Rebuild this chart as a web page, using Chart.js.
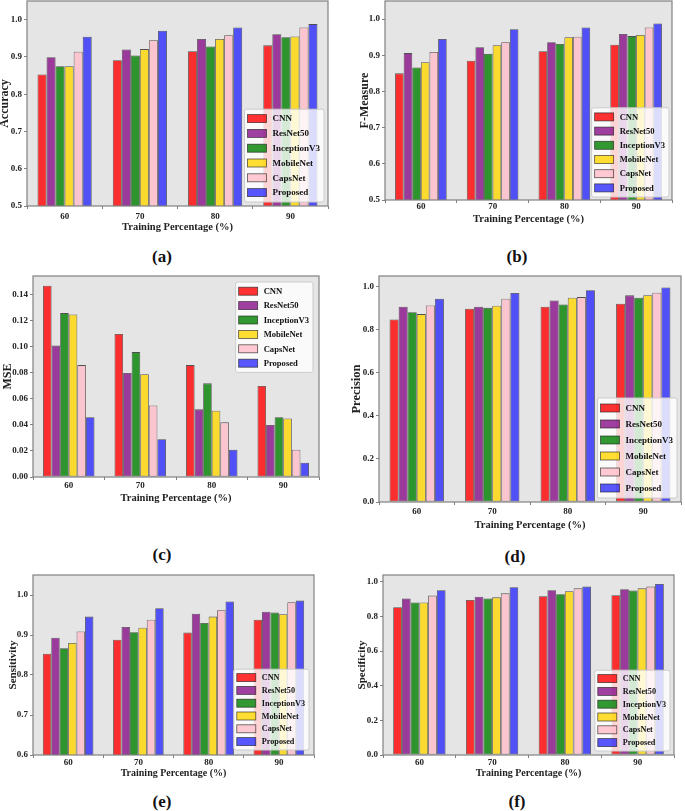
<!DOCTYPE html>
<html>
<head>
<meta charset="utf-8">
<script src="https://cdn.jsdelivr.net/npm/chart.js@4.4.0/dist/chart.umd.min.js"></script>
<style>
  body { margin: 0; background: #fff; width: 685px; height: 811px; position: relative; overflow: hidden; }
  .panel { position: absolute; }
  .cap { position: absolute; font: bold 17px "Liberation Serif", serif; color: #111; transform: translate(-50%, -50%); }
</style>
</head>
<body>
<script>
const categories = ["60", "70", "80", "90"];
const models = ["CNN", "ResNet50", "InceptionV3", "MobileNet", "CapsNet", "Proposed"];
const colors = ["rgba(255,0,0,0.8)", "rgba(128,0,128,0.75)", "rgba(0,128,0,0.8)",
                "rgba(255,215,0,0.8)", "rgba(255,192,203,0.85)", "rgba(0,0,255,0.65)"];

// one row per model (same order as models), one value per training percentage
const accuracy = [
  [0.853, 0.891, 0.915, 0.931],
  [0.899, 0.920, 0.948, 0.961],
  [0.875, 0.904, 0.928, 0.953],
  [0.875, 0.921, 0.948, 0.955],
  [0.914, 0.945, 0.958, 0.979],
  [0.954, 0.970, 0.979, 0.988]
];
const fMeasure = [
  [0.850, 0.885, 0.911, 0.929],
  [0.906, 0.922, 0.936, 0.959],
  [0.866, 0.904, 0.931, 0.953],
  [0.881, 0.928, 0.950, 0.956],
  [0.909, 0.936, 0.951, 0.977],
  [0.945, 0.972, 0.977, 0.988]
];
const mse = [
  [0.147, 0.110, 0.086, 0.070],
  [0.101, 0.080, 0.052, 0.040],
  [0.126, 0.096, 0.072, 0.046],
  [0.125, 0.079, 0.051, 0.045],
  [0.086, 0.055, 0.042, 0.021],
  [0.046, 0.029, 0.021, 0.011]
];
const precision = [
  [0.848, 0.898, 0.907, 0.921],
  [0.907, 0.907, 0.936, 0.960],
  [0.882, 0.902, 0.918, 0.949],
  [0.873, 0.912, 0.949, 0.961],
  [0.913, 0.944, 0.952, 0.972],
  [0.944, 0.971, 0.984, 0.997]
];
const sensitivity = [
  [0.853, 0.888, 0.906, 0.938],
  [0.893, 0.920, 0.953, 0.958],
  [0.867, 0.907, 0.930, 0.956],
  [0.880, 0.918, 0.946, 0.952],
  [0.909, 0.938, 0.962, 0.982],
  [0.946, 0.967, 0.984, 0.986]
];
const specificity = [
  [0.854, 0.896, 0.917, 0.923],
  [0.904, 0.915, 0.952, 0.958],
  [0.881, 0.904, 0.929, 0.950],
  [0.881, 0.911, 0.946, 0.963],
  [0.921, 0.934, 0.963, 0.973],
  [0.952, 0.969, 0.973, 0.988]
];

// layout of the six panels: plot box [left, top, right, bottom] in page pixels
const panels = [
  { cap: "(a)", label: "Accuracy", values: accuracy, min: 0.5, max: 1.05, step: 0.1, dec: 1,
    plot: [27, 1, 328, 206], yTitleX: 5, xTickY: 217, xTitleY: 228, capXY: [162, 257],
    yTitle: 12, xTitle: 10.5, legend: { corner: "br", size: 9, row: 14.8, inset: 4 } },
  { cap: "(b)", label: "F-Measure", values: fMeasure, min: 0.5, max: 1.05, step: 0.1, dec: 1,
    plot: [385, 1, 672, 200], yTitleX: 365, xTickY: 207, xTitleY: 220, capXY: [517, 257],
    yTitle: 12, xTitle: 10.5, legend: { corner: "br", size: 8.6, row: 14.2, inset: 3 } },
  { cap: "(c)", label: "MSE", values: mse, min: 0, max: 0.1545, step: 0.02, dec: 2,
    plot: [33, 276, 319, 477], yTitleX: 8, xTickY: 486, xTitleY: 499, capXY: [162, 555],
    yTitle: 12, xTitle: 10.5, legend: { corner: "tr", size: 8.6, row: 14.4, inset: 6 } },
  { cap: "(d)", label: "Precision", values: precision, min: 0, max: 1.05, step: 0.2, dec: 1,
    plot: [379, 276, 681, 502], yTitleX: 357, xTickY: 512, xTitleY: 526, capXY: [515, 557],
    yTitle: 12.5, xTitle: 10.5, legend: { corner: "br", size: 9, row: 16, inset: 4 } },
  { cap: "(e)", label: "Sensitivity", values: sensitivity, min: 0.6, max: 1.05, step: 0.1, dec: 1,
    plot: [33, 575, 314, 755], yTitleX: 13, xTickY: 763, xTitleY: 773, capXY: [162, 802],
    yTitle: 11, xTitle: 10, legend: { corner: "br", size: 8.2, row: 12.8, inset: 5 } },
  { cap: "(f)", label: "Specificity", values: specificity, min: 0, max: 1.04, step: 0.2, dec: 1,
    plot: [383, 575, 674, 755], yTitleX: 362, xTickY: 763, xTitleY: 773, capXY: [517, 802],
    yTitle: 11, xTitle: 10, legend: { corner: "br", size: 8.2, row: 12.8, inset: 4 } }
];

const FONT = '"Liberation Serif", "Times New Roman", serif';
const EDGE = "rgba(30,30,30,0.75)";

// grey plot background, frame and a matplotlib-like legend
const panelLook = {
  id: "panelLook",
  beforeDraw(chart) {
    const { ctx, chartArea: a } = chart;
    ctx.save();
    ctx.fillStyle = "#e5e5e5";
    ctx.fillRect(a.left, a.top, a.right - a.left, a.bottom - a.top);
    ctx.restore();
  },
  afterDatasetsDraw(chart, args, opts) {
    const { ctx, chartArea: a } = chart;
    ctx.save();
    ctx.strokeStyle = "#808080";
    ctx.lineWidth = 1.2;
    ctx.strokeRect(a.left, a.top, a.right - a.left, a.bottom - a.top);

    // legend
    const lg = opts.legend;
    ctx.font = `bold ${lg.size}px ${FONT}`;
    const names = chart.data.datasets.map(d => d.label);
    const textW = Math.max(...names.map(n => ctx.measureText(n).width));
    const w = 3 + 19 + 6 + textW + 4;
    const h = names.length * lg.row + 4;
    const x = a.right - lg.inset - w;
    const y = lg.corner === "tr" ? a.top + lg.inset : a.bottom - lg.inset - h;
    ctx.beginPath();
    ctx.roundRect(x, y, w, h, 2);
    ctx.fillStyle = "rgba(255,255,255,0.8)";
    ctx.fill();
    ctx.strokeStyle = "#cccccc";
    ctx.lineWidth = 1;
    ctx.stroke();
    names.forEach((n, i) => {
      const cy = y + 2 + lg.row * (i + 0.5);
      ctx.fillStyle = chart.data.datasets[i].backgroundColor;
      ctx.fillRect(x + 3, cy - 4, 19, 8);
      ctx.strokeStyle = EDGE;
      ctx.lineWidth = 0.8;
      ctx.strokeRect(x + 3, cy - 4, 19, 8);
      ctx.fillStyle = "#111";
      ctx.textBaseline = "middle";
      ctx.textAlign = "left";
      ctx.fillText(n, x + 28, cy + 0.5);
    });
    ctx.restore();
  }
};

panels.forEach(p => {
  const [L, T, R, B] = p.plot;
  const left = Math.round(p.yTitleX - p.yTitle / 2);
  const top = T - 8;
  const right = R + 8;
  const bottom = Math.round(p.xTitleY + p.xTitle / 2);

  const wrap = document.createElement("div");
  wrap.className = "panel";
  wrap.style.left = left + "px";
  wrap.style.top = top + "px";
  const canvas = document.createElement("canvas");
  canvas.width = right - left;
  canvas.height = bottom - top;
  wrap.appendChild(canvas);
  document.body.appendChild(wrap);

  const cap = document.createElement("div");
  cap.className = "cap";
  cap.textContent = p.cap;
  cap.style.left = p.capXY[0] + "px";
  cap.style.top = p.capXY[1] + "px";
  document.body.appendChild(cap);

  const tickFont = { family: FONT, size: 9, weight: "bold" };

  new Chart(canvas, {
    type: "bar",
    data: {
      labels: categories,
      datasets: models.map((m, i) => ({
        label: m,
        data: p.values[i],
        backgroundColor: colors[i],
        borderColor: EDGE,
        borderWidth: 0.8,
        borderSkipped: false,
        categoryPercentage: 0.72,
        barPercentage: 1.0
      }))
    },
    options: {
      responsive: false,
      animation: false,
      events: [],
      layout: { padding: { left: 0, top: T - top, right: right - R, bottom: 0 } },
      plugins: {
        legend: { display: false },
        tooltip: { enabled: false },
        panelLook: { legend: p.legend }
      },
      scales: {
        x: {
          grid: { display: true, drawOnChartArea: false, drawTicks: true, tickLength: 3, color: "#808080" },
          border: { display: false },
          ticks: { font: tickFont, color: "#222", padding: p.xTickY - B - 3 - 5.4 },
          title: { display: true, text: "Training Percentage (%)", color: "#222", padding: 0,
                   font: { family: FONT, size: p.xTitle, weight: "bold", lineHeight: 1 } },
          afterFit: s => { s.height = bottom - top - (B - top); }
        },
        y: {
          min: p.min,
          max: p.max,
          grid: { display: true, drawOnChartArea: false, drawTicks: true, tickLength: 3, color: "#808080" },
          border: { display: false },
          ticks: { stepSize: p.step, includeBounds: false, font: tickFont, color: "#222", padding: 2,
                   callback: v => Number(v).toFixed(p.dec) },
          title: { display: true, text: p.label, color: "#222", padding: 0,
                   font: { family: FONT, size: p.yTitle, weight: "bold", lineHeight: 1 } },
          afterFit: s => { s.width = L - left; }
        }
      }
    },
    plugins: [panelLook]
  });
});
</script>
</body>
</html>
